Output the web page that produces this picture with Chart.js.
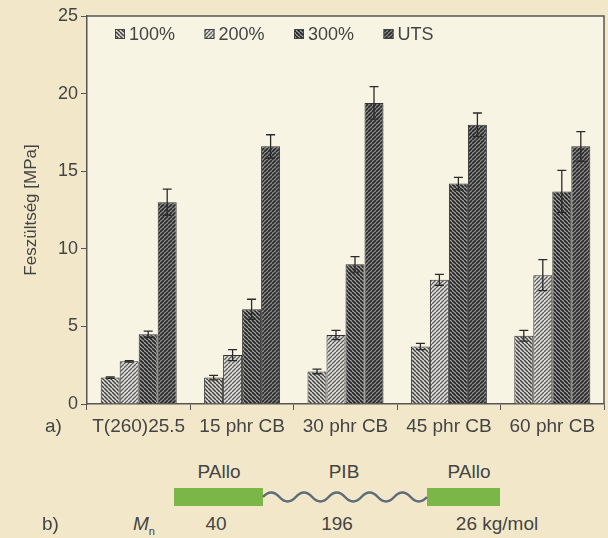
<!DOCTYPE html>
<html>
<head>
<meta charset="utf-8">
<script src="https://cdn.jsdelivr.net/npm/chart.js@4"></script>
<style>
  body { margin: 0; background: #f2e8c9; font-family: 'Liberation Sans', Arial, sans-serif; color: #444; }
  #wrap { position: relative; width: 608px; height: 538px; overflow: hidden; }
  #chartBox { position: absolute; left: 0; top: 0; width: 608px; height: 440px; }
  .txt { position: absolute; font-size: 19px; line-height: 22px; color: #444; white-space: nowrap; }
  .c { transform: translateX(-50%); }
</style>
</head>
<body>
<div id="wrap">
  <div id="chartBox"><canvas id="stressChart" width="608" height="440"></canvas></div>
  <div class="txt" style="left:45px;top:415px">a)</div>

  <div class="txt c" style="left:219px;top:461px">PAllo</div>
  <div class="txt c" style="left:344px;top:461px">PIB</div>
  <div class="txt c" style="left:469px;top:461px">PAllo</div>
  <svg style="position:absolute;left:0;top:480px" width="608" height="32">
    <rect x="174" y="8" width="89" height="18" fill="#7ab648"/>
    <rect x="427" y="8" width="73" height="18" fill="#7ab648"/>
    <path d="M263 17 q8.2 -9 16.4 0 t16.4 0 t16.4 0 t16.4 0 t16.4 0 t16.4 0 t16.4 0 t16.4 0 t16.4 0 t16.4 0"
          fill="none" stroke="#5d6c78" stroke-width="2.5"/>
  </svg>
  <div class="txt" style="left:42px;top:513px">b)</div>
  <div class="txt" style="left:133px;top:513px"><i>M</i><sub style="font-size:11px">n</sub></div>
  <div class="txt c" style="left:216px;top:513px">40</div>
  <div class="txt c" style="left:337px;top:513px">196</div>
  <div class="txt c" style="left:497px;top:513px">26 kg/mol</div>
</div>

<script>
// data
const categories = ['T(260)25.5', '15 phr CB', '30 phr CB', '45 phr CB', '60 phr CB'];
const seriesNames = ['100%', '200%', '300%', 'UTS'];
const stress100 = [1.7, 1.7, 2.1, 3.7, 4.4];
const stress200 = [2.75, 3.15, 4.45, 8.0, 8.3];
const stress300 = [4.5, 6.1, 9.0, 14.2, 13.7];
const stressUts = [13.0, 16.6, 19.4, 18.0, 16.6];
const err100 = [0.05, 0.15, 0.15, 0.2, 0.35];
const err200 = [0.05, 0.35, 0.3, 0.35, 1.0];
const err300 = [0.2, 0.65, 0.5, 0.4, 1.35];
const errUts = [0.85, 0.75, 1.05, 0.75, 0.95];
const yMax = 25;
const yStep = 5;

const FONT = "'Liberation Sans', Arial, sans-serif";

// diagonal hatch tile, dir '/' or '\'
function hatch(bg, fg, dir, step, lw) {
    const c = document.createElement('canvas');
    c.width = c.height = step;
    const g = c.getContext('2d');
    g.fillStyle = bg;
    g.fillRect(0, 0, step, step);
    g.strokeStyle = fg;
    g.lineWidth = lw;
    g.beginPath();
    for (let k = -1; k <= 1; k++) {
        if (dir === '/') {
            g.moveTo(k * step, step);
            g.lineTo(k * step + step, 0);
        } else {
            g.moveTo(k * step, 0);
            g.lineTo(k * step + step, step);
        }
    }
    g.stroke();
    return g.createPattern(c, 'repeat');
}

const fills = [
    hatch('#dedcd4', '#404040', '\\', 4, 1.5),
    hatch('#e6e4de', '#5c5c5c', '/', 4, 1.4),
    hatch('#a0a0a0', '#222222', '\\', 4, 1.6),
    hatch('#8c8c8c', '#2a2a2a', '/', 4, 1.6)
];
const values = [stress100, stress200, stress300, stressUts];
const errors = [err100, err200, err300, errUts];

const plotFrame = {
    id: 'plotFrame',
    beforeDraw(chart) {
        const a = chart.chartArea, ctx = chart.ctx;
        ctx.save();
        ctx.fillStyle = '#f8f4e4';
        ctx.fillRect(a.left, a.top, a.right - a.left, a.bottom - a.top);
        ctx.restore();
    },
    afterDraw(chart) {
        const a = chart.chartArea, ctx = chart.ctx;
        ctx.save();
        ctx.strokeStyle = '#555';
        ctx.lineWidth = 1.5;
        ctx.beginPath();
        ctx.moveTo(a.left, a.top);
        ctx.lineTo(a.right, a.top);
        ctx.lineTo(a.right, a.bottom);
        ctx.stroke();

        // legend inside the plot
        ctx.font = '18px ' + FONT;
        ctx.textBaseline = 'middle';
        chart.data.datasets.forEach((ds, i) => {
            const x = a.left + 28 + i * 89.5;
            const y = a.top + 18;
            ctx.fillStyle = ds.backgroundColor;
            ctx.fillRect(x, y - 5, 10, 10);
            ctx.strokeStyle = '#444';
            ctx.lineWidth = 1;
            ctx.strokeRect(x + 0.5, y - 4.5, 9, 9);
            ctx.fillStyle = '#444';
            ctx.fillText(ds.label, x + 14, y + 1);
        });
        ctx.restore();
    }
};

const errorBars = {
    id: 'errorBars',
    afterDatasetsDraw(chart) {
        const ctx = chart.ctx, y = chart.scales.y;
        ctx.save();
        ctx.strokeStyle = '#2a2a2a';
        ctx.lineWidth = 1.3;
        chart.data.datasets.forEach((ds, i) => {
            chart.getDatasetMeta(i).data.forEach((bar, j) => {
                const v = ds.data[j], e = errors[i][j];
                const top = y.getPixelForValue(v + e);
                const bot = y.getPixelForValue(v - e);
                ctx.beginPath();
                ctx.moveTo(bar.x, top);
                ctx.lineTo(bar.x, bot);
                ctx.moveTo(bar.x - 4.5, top);
                ctx.lineTo(bar.x + 4.5, top);
                ctx.moveTo(bar.x - 4.5, bot);
                ctx.lineTo(bar.x + 4.5, bot);
                ctx.stroke();
            });
        });
        ctx.restore();
    }
};

new Chart(document.getElementById('stressChart'), {
    type: 'bar',
    data: {
        labels: categories,
        datasets: seriesNames.map((name, i) => ({
            label: name,
            data: values[i],
            backgroundColor: fills[i],
            borderColor: '#333',
            borderWidth: 1,
            borderSkipped: 'bottom',
            categoryPercentage: 0.735,
            barPercentage: 1.0
        }))
    },
    options: {
        responsive: false,
        animation: false,
        layout: { padding: { top: 16, right: 4, left: 0, bottom: 0 } },
        plugins: {
            legend: { display: false },
            tooltip: { enabled: false }
        },
        scales: {
            x: {
                afterFit: (s) => { s.height = 36; },
                grid: { drawOnChartArea: false, tickLength: 6, color: '#555', lineWidth: 1 },
                border: { color: '#555', width: 1.5 },
                ticks: { color: '#444', font: { size: 19, family: FONT }, padding: 5, maxRotation: 0, autoSkip: false }
            },
            y: {
                min: 0,
                max: yMax,
                afterFit: (s) => { s.width = 87; },
                grid: { drawOnChartArea: false, tickLength: 6, color: '#555', lineWidth: 1 },
                border: { color: '#555', width: 1.5 },
                ticks: { stepSize: yStep, color: '#444', font: { size: 18, family: FONT }, padding: 3 },
                title: {
                    display: true,
                    text: 'Feszültség [MPa]',
                    color: '#444',
                    font: { size: 17, family: FONT },
                    padding: { top: 21, bottom: 0 }
                }
            }
        }
    },
    plugins: [plotFrame, errorBars]
});
</script>
</body>
</html>
